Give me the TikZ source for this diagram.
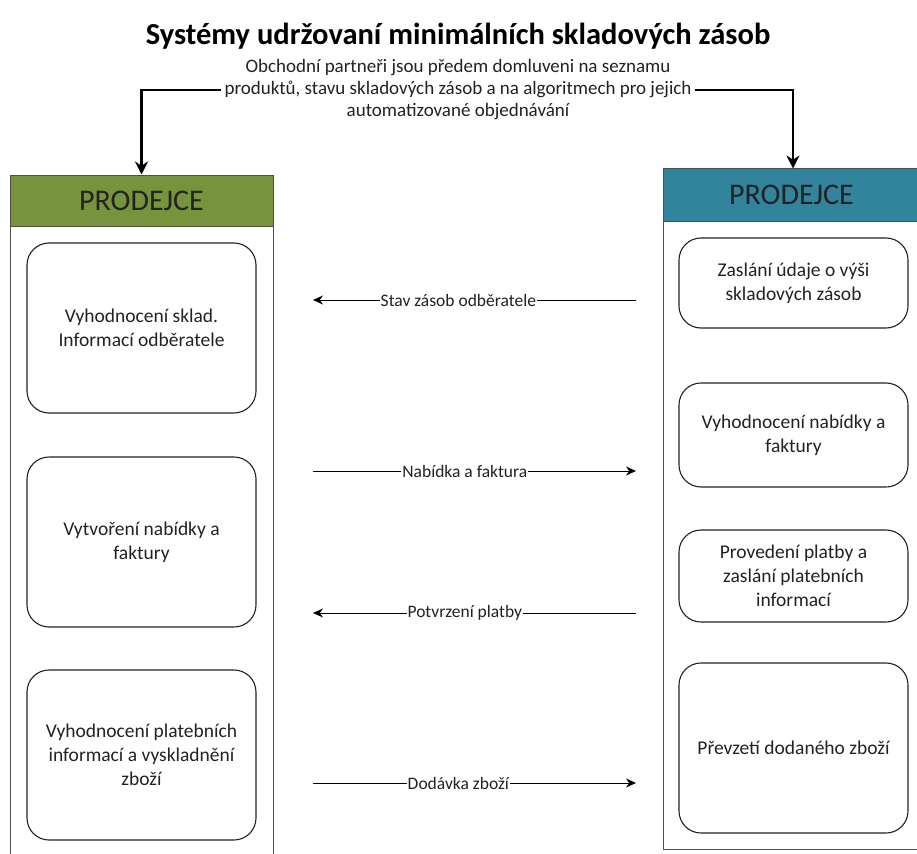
\documentclass[tikz,border=0pt]{standalone}
\usepackage{fontspec}
\setmainfont{Carlito}
\usetikzlibrary{arrows.meta}
\definecolor{olive}{HTML}{77933C}
\definecolor{teal}{HTML}{31849B}
\definecolor{ink}{HTML}{222222}
\begin{document}
\begin{tikzpicture}[x=1pt,y=-1pt,
  header/.style={draw=ink!80, line width=1pt, text=ink, font=\fontsize{30}{34}\selectfont, inner sep=0pt},
  lane/.style={draw=ink!80, line width=1pt, inner sep=0pt},
  task/.style={draw=ink, line width=1.1pt, rounded corners=22pt, align=center, text=ink,
    font=\fontsize{19.5}{24}\selectfont, inner sep=0pt},
  flow/.style={draw=black, line width=0.9pt, -{Stealth[length=10pt,width=9pt]}},
  flowlabel/.style={fill=white, inner sep=1pt, text=ink, font=\fontsize{17.5}{20}\selectfont},
  feed/.style={draw=black, line width=2.6pt, -{Stealth[length=13pt,width=13pt]}}
]
\useasboundingbox (0,0) rectangle (917,853);
\clip (0,0) rectangle (917,853);
\fill[white] (0,0) rectangle (917,853);

% title and agreement note
\node[font=\bfseries\fontsize{30.5}{34}\selectfont, text=black] (title) at (458,36)
  {Systémy udržovaní minimálních skladových zásob};
\node[align=center, text=ink, font=\fontsize{19}{22}\selectfont, inner sep=3pt] (note) at (458,90)
  {Obchodní partneři jsou předem domluveni na seznamu\\
   produktů, stavu skladových zásob a na algoritmech pro jejich\\
   automatizované objednávání};

% left lane (runs past the lower edge)
\node[lane, minimum width=263pt, minimum height=640pt] (bodyL) at (141.5,546) {};
\node[header, fill=olive, minimum width=263pt, minimum height=51pt] (hL) at (141.5,200.5) {PRODEJCE};

% right lane (runs past the right edge)
\node[lane, minimum width=260pt, minimum height=628pt] (bodyR) at (793,535) {};
\node[header, fill=teal, minimum width=260pt, minimum height=52pt] (hR) at (793,195) {\hspace*{-3pt}PRODEJCE};

% left tasks
\node[task, minimum width=229pt, minimum height=170pt] (l1) at (141.5,328)
  {Vyhodnocení sklad.\\Informací odběratele};
\node[task, minimum width=229pt, minimum height=170pt] (l2) at (141.5,542)
  {Vytvoření nabídky a\\faktury};
\node[task, minimum width=229pt, minimum height=170pt] (l3) at (141.5,755)
  {Vyhodnocení platebních\\informací a vyskladnění\\zboží};

% right tasks
\node[task, minimum width=229pt, minimum height=90pt] (r1) at (793.5,283)
  {Zaslání údaje o výši\\skladových zásob};
\node[task, minimum width=229pt, minimum height=104pt] (r2) at (793.5,435)
  {Vyhodnocení nabídky a\\faktury};
\node[task, minimum width=229pt, minimum height=92pt] (r3) at (793.5,576)
  {Provedení platby a\\zaslání platebních\\informací};
\node[task, minimum width=229pt, minimum height=170pt] (r4) at (793.5,748)
  {Převzetí dodaného zboží};

% message ends between the lanes
\coordinate (m1L) at (313,300);  \coordinate (m1R) at (636,300);
\coordinate (m2L) at (313,471);  \coordinate (m2R) at (636,471);
\coordinate (m3L) at (313,613);  \coordinate (m3R) at (636,613);
\coordinate (m4L) at (313,783);  \coordinate (m4R) at (636,783);

\draw[flow] (m1R) -- node[flowlabel, pos=0.55] {Stav zásob odběratele} (m1L);
\draw[flow] (m2L) -- node[flowlabel, pos=0.47] {Nabídka a faktura} (m2R);
\draw[flow] (m3R) -- node[flowlabel, pos=0.53] {Potvrzení platby} (m3L);
\draw[flow] (m4L) -- node[flowlabel, pos=0.45] {Dodávka zboží} (m4R);

% agreement feeds both partners
\draw[feed] (note.west) -| (hL.north);
\draw[feed] (note.east) -| (hR.north);
\end{tikzpicture}
\end{document}
